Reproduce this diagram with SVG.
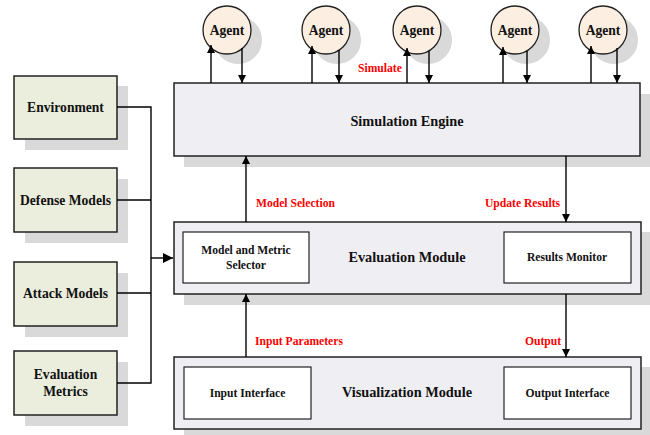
<svg xmlns="http://www.w3.org/2000/svg" width="650" height="435" viewBox="0 0 650 435" font-family="'Liberation Serif', 'Times New Roman', serif">
<defs>
<marker id="ah" viewBox="0 0 10 10" refX="10" refY="5" markerWidth="8" markerHeight="8" markerUnits="userSpaceOnUse" orient="auto">
<path d="M0,0 L10,5 L0,10 z" fill="#000"/>
</marker>
<marker id="ahb" viewBox="0 0 10 10" refX="10" refY="5" markerWidth="10" markerHeight="10" markerUnits="userSpaceOnUse" orient="auto">
<path d="M0,0 L10,5 L0,10 z" fill="#000"/>
</marker>
</defs>
<style>
text{font-family:"Liberation Serif","Times New Roman",serif;font-weight:bold;fill:#111;text-anchor:middle}
.sh{fill:#d9d9d9}
.agent{fill:#fcefe2;stroke:#222;stroke-width:1.3}
.side{fill:#ebeedd;stroke:#222;stroke-width:1.5}
.mod{fill:#efeef3;stroke:#222;stroke-width:1.5}
.inner{fill:#fff;stroke:#222;stroke-width:1.2}
.c{fill:none;stroke:#000;stroke-width:1.4}
.lbl{fill:#f00;text-anchor:start;font-size:11.6px}
.a{font-size:13.6px}
.s{font-size:11.6px}
.m{font-size:14.3px}
</style>
<g id="agent1"><circle class="sh" cx="238" cy="40" r="24"/><circle class="agent" cx="227" cy="30" r="24"/><text class="a" x="227" y="34.5">Agent</text></g>
<g id="agent2"><circle class="sh" cx="337" cy="40" r="24"/><circle class="agent" cx="326" cy="30" r="24"/><text class="a" x="326" y="34.5">Agent</text></g>
<g id="agent3"><circle class="sh" cx="428" cy="40" r="24"/><circle class="agent" cx="417" cy="30" r="24"/><text class="a" x="417" y="34.5">Agent</text></g>
<g id="agent4"><circle class="sh" cx="526" cy="40" r="24"/><circle class="agent" cx="515" cy="30" r="24"/><text class="a" x="515" y="34.5">Agent</text></g>
<g id="agent5"><circle class="sh" cx="614" cy="40" r="24"/><circle class="agent" cx="603" cy="30" r="24"/><text class="a" x="603" y="34.5">Agent</text></g>

<g id="engine"><rect class="sh" x="184" y="94" width="466" height="73"/><rect class="mod" x="174" y="83" width="466" height="73"/><text class="m" x="407" y="126">Simulation Engine</text></g>

<g id="env"><rect class="sh" x="25" y="86" width="103" height="64"/><rect class="side" x="14" y="76" width="103" height="63"/><text class="a" x="65.5" y="112">Environment</text></g>
<g id="defense"><rect class="sh" x="25" y="179" width="103" height="64"/><rect class="side" x="14" y="168" width="103" height="64"/><text class="a" x="65.5" y="204.5">Defense Models</text></g>
<g id="attack"><rect class="sh" x="25" y="273" width="103" height="64"/><rect class="side" x="14" y="262" width="103" height="64"/><text class="a" x="65.5" y="298">Attack Models</text></g>
<g id="metrics"><rect class="sh" x="25" y="362" width="103" height="64"/><rect class="side" x="14" y="351" width="103" height="64"/><text class="a" x="65.5" y="379">Evaluation</text><text class="a" x="65.5" y="396">Metrics</text></g>

<g id="evaluation"><rect class="sh" x="184" y="232" width="466" height="73"/><rect class="mod" x="174" y="222" width="467" height="72"/><text class="m" x="407" y="262">Evaluation Module</text>
<g id="selector"><rect class="inner" x="183" y="232" width="126" height="51"/><text class="s" x="246" y="254">Model and Metric</text><text class="s" x="246" y="269">Selector</text></g>
<g id="monitor"><rect class="inner" x="504" y="232" width="127" height="51"/><text class="s" x="567" y="261">Results Monitor</text></g>
</g>

<g id="visualization"><rect class="sh" x="184" y="367" width="466" height="68"/><rect class="mod" x="174" y="357" width="467" height="72"/><text class="m" x="407" y="397">Visualization Module</text>
<g id="input"><rect class="inner" x="184" y="367" width="127" height="52"/><text class="s" x="247.5" y="397">Input Interface</text></g>
<g id="output"><rect class="inner" x="504" y="367" width="127" height="52"/><text class="s" x="567.5" y="397">Output Interface</text></g>
</g>

<g id="connectors">
<line class="c" x1="211" y1="83" x2="211" y2="45" marker-end="url(#ah)"/>
<line class="c" x1="242" y1="48" x2="242" y2="83" marker-end="url(#ah)"/>
<line class="c" x1="312" y1="83" x2="312" y2="46" marker-end="url(#ah)"/>
<line class="c" x1="339" y1="50" x2="339" y2="83" marker-end="url(#ah)"/>
<line class="c" x1="407" y1="83" x2="407" y2="48" marker-end="url(#ah)"/>
<line class="c" x1="429" y1="51" x2="429" y2="83" marker-end="url(#ah)"/>
<line class="c" x1="503" y1="83" x2="503" y2="47" marker-end="url(#ah)"/>
<line class="c" x1="527" y1="51" x2="527" y2="83" marker-end="url(#ah)"/>
<line class="c" x1="591" y1="83" x2="591" y2="46" marker-end="url(#ah)"/>
<line class="c" x1="617" y1="48" x2="617" y2="83" marker-end="url(#ah)"/>
<text class="lbl" x="358" y="72">Simulate</text>

<line class="c" x1="246" y1="222" x2="246" y2="156" marker-end="url(#ah)"/>
<text class="lbl" x="256" y="207">Model Selection</text>
<line class="c" x1="566" y1="156" x2="566" y2="222" marker-end="url(#ah)"/>
<text class="lbl" x="485" y="207">Update Results</text>
<line class="c" x1="246" y1="357" x2="246" y2="294" marker-end="url(#ah)"/>
<text class="lbl" x="255" y="345">Input Parameters</text>
<line class="c" x1="566" y1="294" x2="566" y2="357" marker-end="url(#ah)"/>
<text class="lbl" x="525" y="345">Output</text>

<polyline class="c" points="117,107 151,107 151,383 117,383"/>
<line class="c" x1="117" y1="200" x2="151" y2="200"/>
<line class="c" x1="117" y1="293" x2="151" y2="293"/>
<line class="c" x1="151" y1="258" x2="173" y2="258" stroke-width="2" marker-end="url(#ahb)"/>
</g>
</svg>
